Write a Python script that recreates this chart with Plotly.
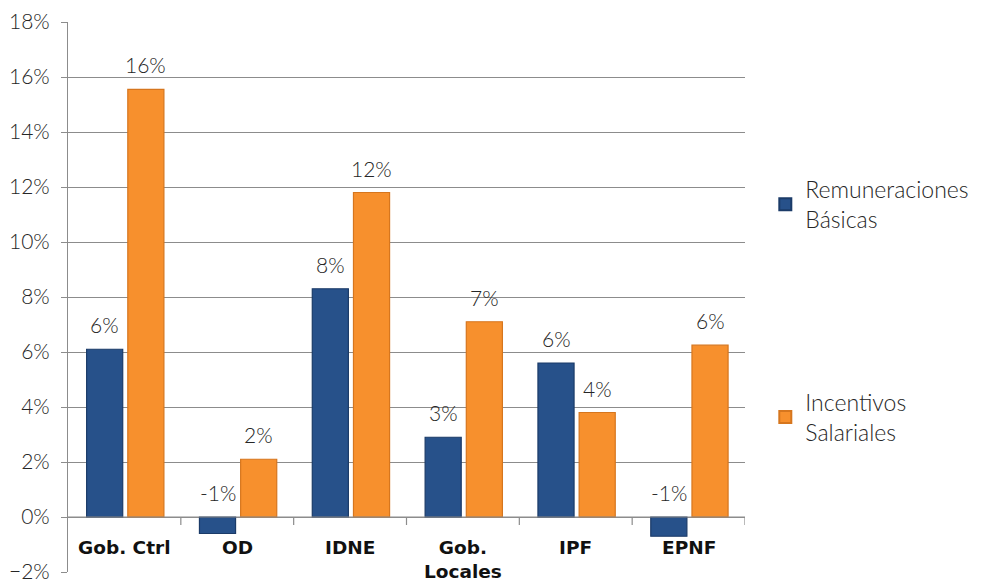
import plotly.graph_objects as go

categories = ["Gob. Ctrl", "OD", "IDNE", "Gob.<br>Locales", "IPF", "EPNF"]
remuneraciones = [0.061, -0.006, 0.083, 0.029, 0.056, -0.007]
incentivos = [0.1555, 0.021, 0.118, 0.071, 0.038, 0.0625]
series_names = ["Remuneraciones<br>Básicas", "Incentivos<br>Salariales"]
y_ticks = [-0.02, 0.0, 0.02, 0.04, 0.06, 0.08, 0.10, 0.12, 0.14, 0.16, 0.18]

FONT = "Lato"
BOLD_FONT = "DejaVu Sans"
TEXT_COLOR = "#262626"
GRID = "#8c8c8c"

x = list(range(len(categories)))
bar_width = 0.32
offsets = [-0.335, 0.03]
fills = ["#27518a", "#f7902d"]
lines = ["#1b3b68", "#d6761e"]

fig = go.Figure()
for i, vals in enumerate([remuneraciones, incentivos]):
    fig.add_trace(go.Bar(
        x=x, y=vals, name=series_names[i],
        width=bar_width, offset=offsets[i],
        marker=dict(color=fills[i], line=dict(color=lines[i], width=1.2)),
        legendgroup=f"g{i}",
    ))
    # value labels above each bar (above the zero line for negatives)
    for xi, v in zip(x, vals):
        fig.add_annotation(
            x=xi + offsets[i] + bar_width / 2, y=max(v, 0), xref="x", yref="y",
            text=f"{round(v * 100):d}%", showarrow=False,
            yanchor="bottom", yshift=10,
            font=dict(family=FONT, size=21, color=TEXT_COLOR, weight=300),
        )

# category labels hanging below the zero line
for xi, c in zip(x, categories):
    fig.add_annotation(
        x=xi, y=0, xref="x", yref="y", text=f"<b>{c}</b>", showarrow=False,
        yanchor="top", yshift=-18,
        font=dict(family=BOLD_FONT, size=18.5, color="#111111"),
    )

# zero axis line with category separator ticks
fig.add_shape(type="line", xref="x", yref="y", x0=-0.5, x1=len(x) - 0.5,
              y0=0, y1=0, line=dict(color=GRID, width=1.2))
for k in range(1, len(x) + 1):
    fig.add_shape(type="line", xref="x", yref="paper", x0=k - 0.5, x1=k - 0.5,
                  y0=0.1, y1=0.1 - 8 / 550, line=dict(color=GRID, width=1.2))

fig.update_layout(
    width=986, height=587,
    margin=dict(l=68, r=238, t=22, b=15),
    paper_bgcolor="white", plot_bgcolor="white",
    barmode="group",
    showlegend=True,
    legend=dict(
        x=1.03, y=0.735, xanchor="left", yanchor="top",
        font=dict(family=FONT, size=23, color=TEXT_COLOR, weight=300),
        tracegroupgap=150, itemsizing="constant",
        bgcolor="rgba(0,0,0,0)",
    ),
    xaxis=dict(
        range=[-0.5, len(x) - 0.5], showticklabels=False, showgrid=False,
        zeroline=False, showline=False, ticks="", automargin=False,
    ),
    yaxis=dict(
        range=[-0.02, 0.18], tickvals=y_ticks, tickformat=".0%",
        showgrid=True, gridcolor=GRID, gridwidth=1,
        zeroline=False, showline=True, linecolor=GRID, linewidth=1.2,
        ticks="outside", ticklen=6, tickcolor=GRID, ticklabelstandoff=7,
        tickfont=dict(family=FONT, size=21, color=TEXT_COLOR, weight=300),
        automargin=False,
    ),
)

fig.write_html("out.html")
